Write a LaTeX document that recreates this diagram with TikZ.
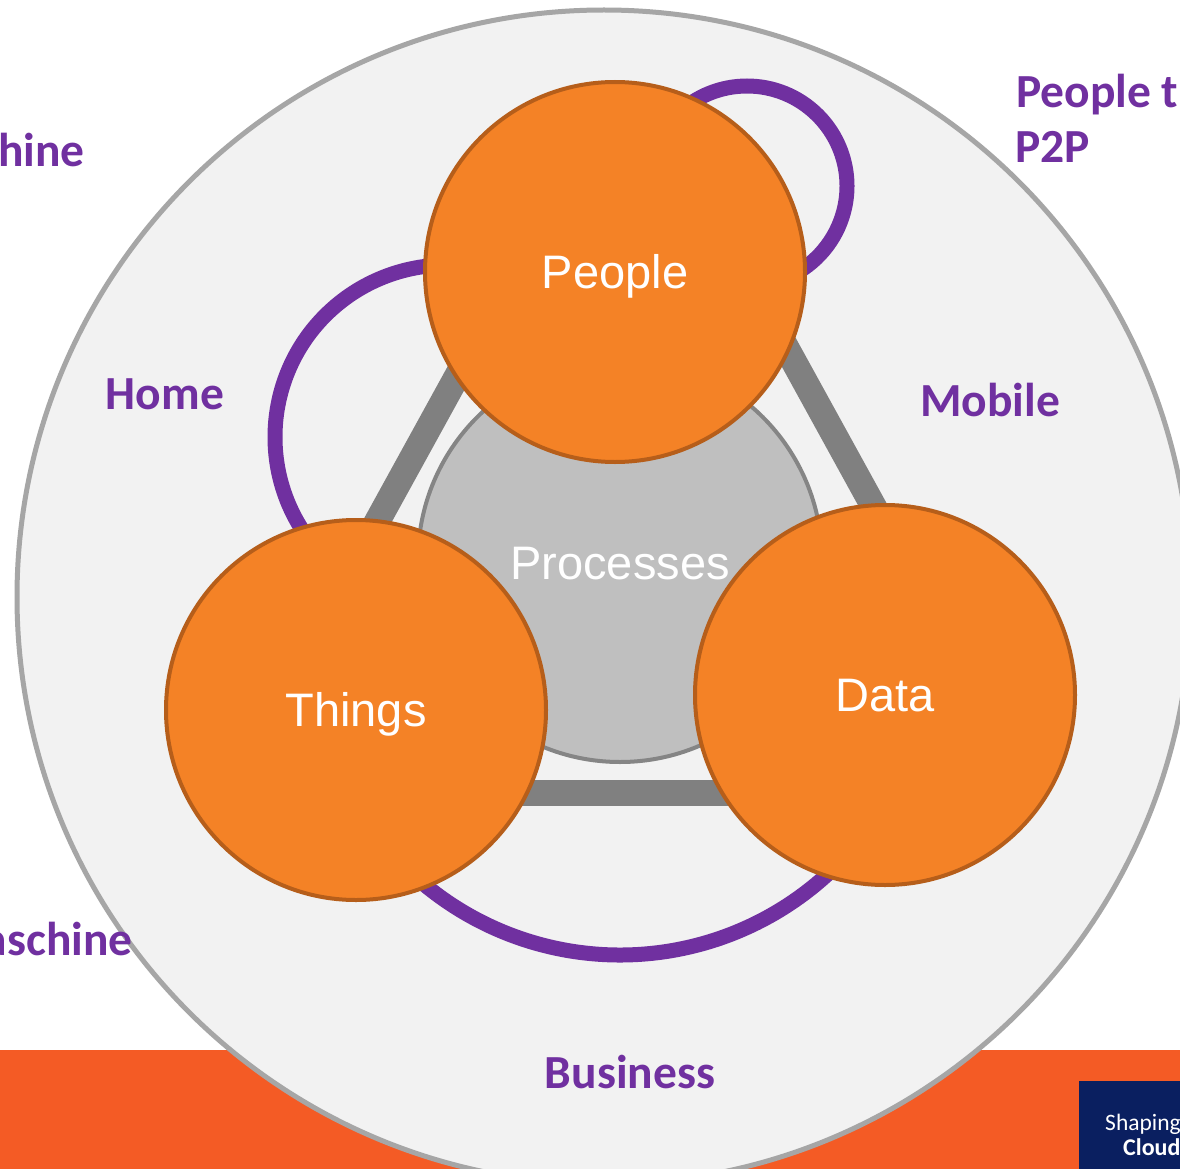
\documentclass[tikz,border=0pt]{standalone}
\usepackage{fontspec}
\setmainfont{Carlito}
\newfontfamily\arialf{Liberation Sans}
\definecolor{bandorange}{RGB}{244,91,37}
\definecolor{outerfill}{RGB}{242,242,242}
\definecolor{outerline}{RGB}{166,166,166}
\definecolor{ringpurple}{RGB}{112,48,160}
\definecolor{bargray}{RGB}{128,128,128}
\definecolor{procfill}{RGB}{191,191,191}
\definecolor{procline}{RGB}{133,133,133}
\definecolor{orfill}{RGB}{244,130,38}
\definecolor{orline}{RGB}{182,94,26}
\definecolor{navybox}{RGB}{10,31,96}
\tikzset{
  outerc/.style={circle, inner sep=0pt, minimum size=1174pt, fill=outerfill, draw=outerline, line width=5pt},
  ringp/.style={draw=ringpurple, line width=15pt},
  barline/.style={draw=bargray, line width=26pt},
  procc/.style={circle, inner sep=0pt, minimum size=404pt, fill=procfill, draw=procline, line width=4pt,
    text=white, font=\arialf\fontsize{47}{56}\selectfont, text height=33.6pt, text depth=0pt},
  orc/.style={circle, inner sep=0pt, minimum size=380pt, fill=orfill, draw=orline, line width=4pt,
    text=white, font=\arialf\fontsize{47}{56}\selectfont, text height=33.6pt, text depth=0pt},
  lbl/.style={inner sep=0pt, text=ringpurple, font=\bfseries\fontsize{47.5}{56}\selectfont},
  boxtxt/.style={inner sep=0pt, text=white, font=\fontsize{23.5}{28}\selectfont},
}
\begin{document}
\begin{tikzpicture}[x=1pt,y=-1pt]
\useasboundingbox (0,0) rectangle (1180,1169);
\clip (0,0) rectangle (1180,1169);
\fill[white] (0,0) rectangle (1180,1169);
\fill[bandorange] (0,1050) rectangle (1180,1169);
\node[outerc] (outer) at (604,597) {};
% purple rings
\coordinate (ringtop) at (747,186);
\coordinate (ringleft) at (447,437);
\coordinate (ringbottom) at (620,648);
\draw[ringp] ([shift={(225:100)}]ringtop) arc (225:425:100);
\draw[ringp] ([shift={(140:172)}]ringleft) arc (140:275:172);
\draw[ringp] ([shift={(40:307)}]ringbottom) arc (40:140:307);
% gray bars
\coordinate (lbA) at (499,300);
\coordinate (lbB) at (279,700);
\coordinate (rbA) at (760,300);
\coordinate (rbB) at (980,700);
\coordinate (bbA) at (420,793);
\coordinate (bbB) at (800,793);
\draw[barline] (lbA) -- (lbB);
\draw[barline] (rbA) -- (rbB);
\draw[barline] (bbA) -- (bbB);
% circles
\node[procc] (processes) at (620,560) {};
\node[orc] (people) at (615,272) {People};
\node[orc] (things) at (356,710) {Things};
\node[orc] (data) at (885,695) {Data};
\node[inner sep=0pt, text=white, font=\arialf\fontsize{47}{56}\selectfont, anchor=base] (proctext) at (620,579) {Processes};
% labels
\node[lbl, anchor=base east] (machineA) at (85,167) {hine};
\node[lbl, anchor=base east] (machineB) at (133,955) {aschine};
\node[lbl, anchor=base west] (peoplet) at (1016,108) {People t};
\node[lbl, anchor=base west] (ptwop) at (1015,163) {P2P};
\node[lbl, anchor=base] (home) at (165,409) {Home};
\node[lbl, anchor=base] (mobile) at (990,416) {Mobile};
\node[lbl, anchor=base] (business) at (630,1088) {Business};
% navy box
\fill[navybox] (1079,1081) rectangle (1180,1169);
\node[boxtxt, anchor=base west] (shaping) at (1105,1130) {Shaping};
\node[boxtxt, anchor=base west, font=\bfseries\fontsize{24}{28}\selectfont] (cloud) at (1123,1155) {Cloud};
\end{tikzpicture}
\end{document}
